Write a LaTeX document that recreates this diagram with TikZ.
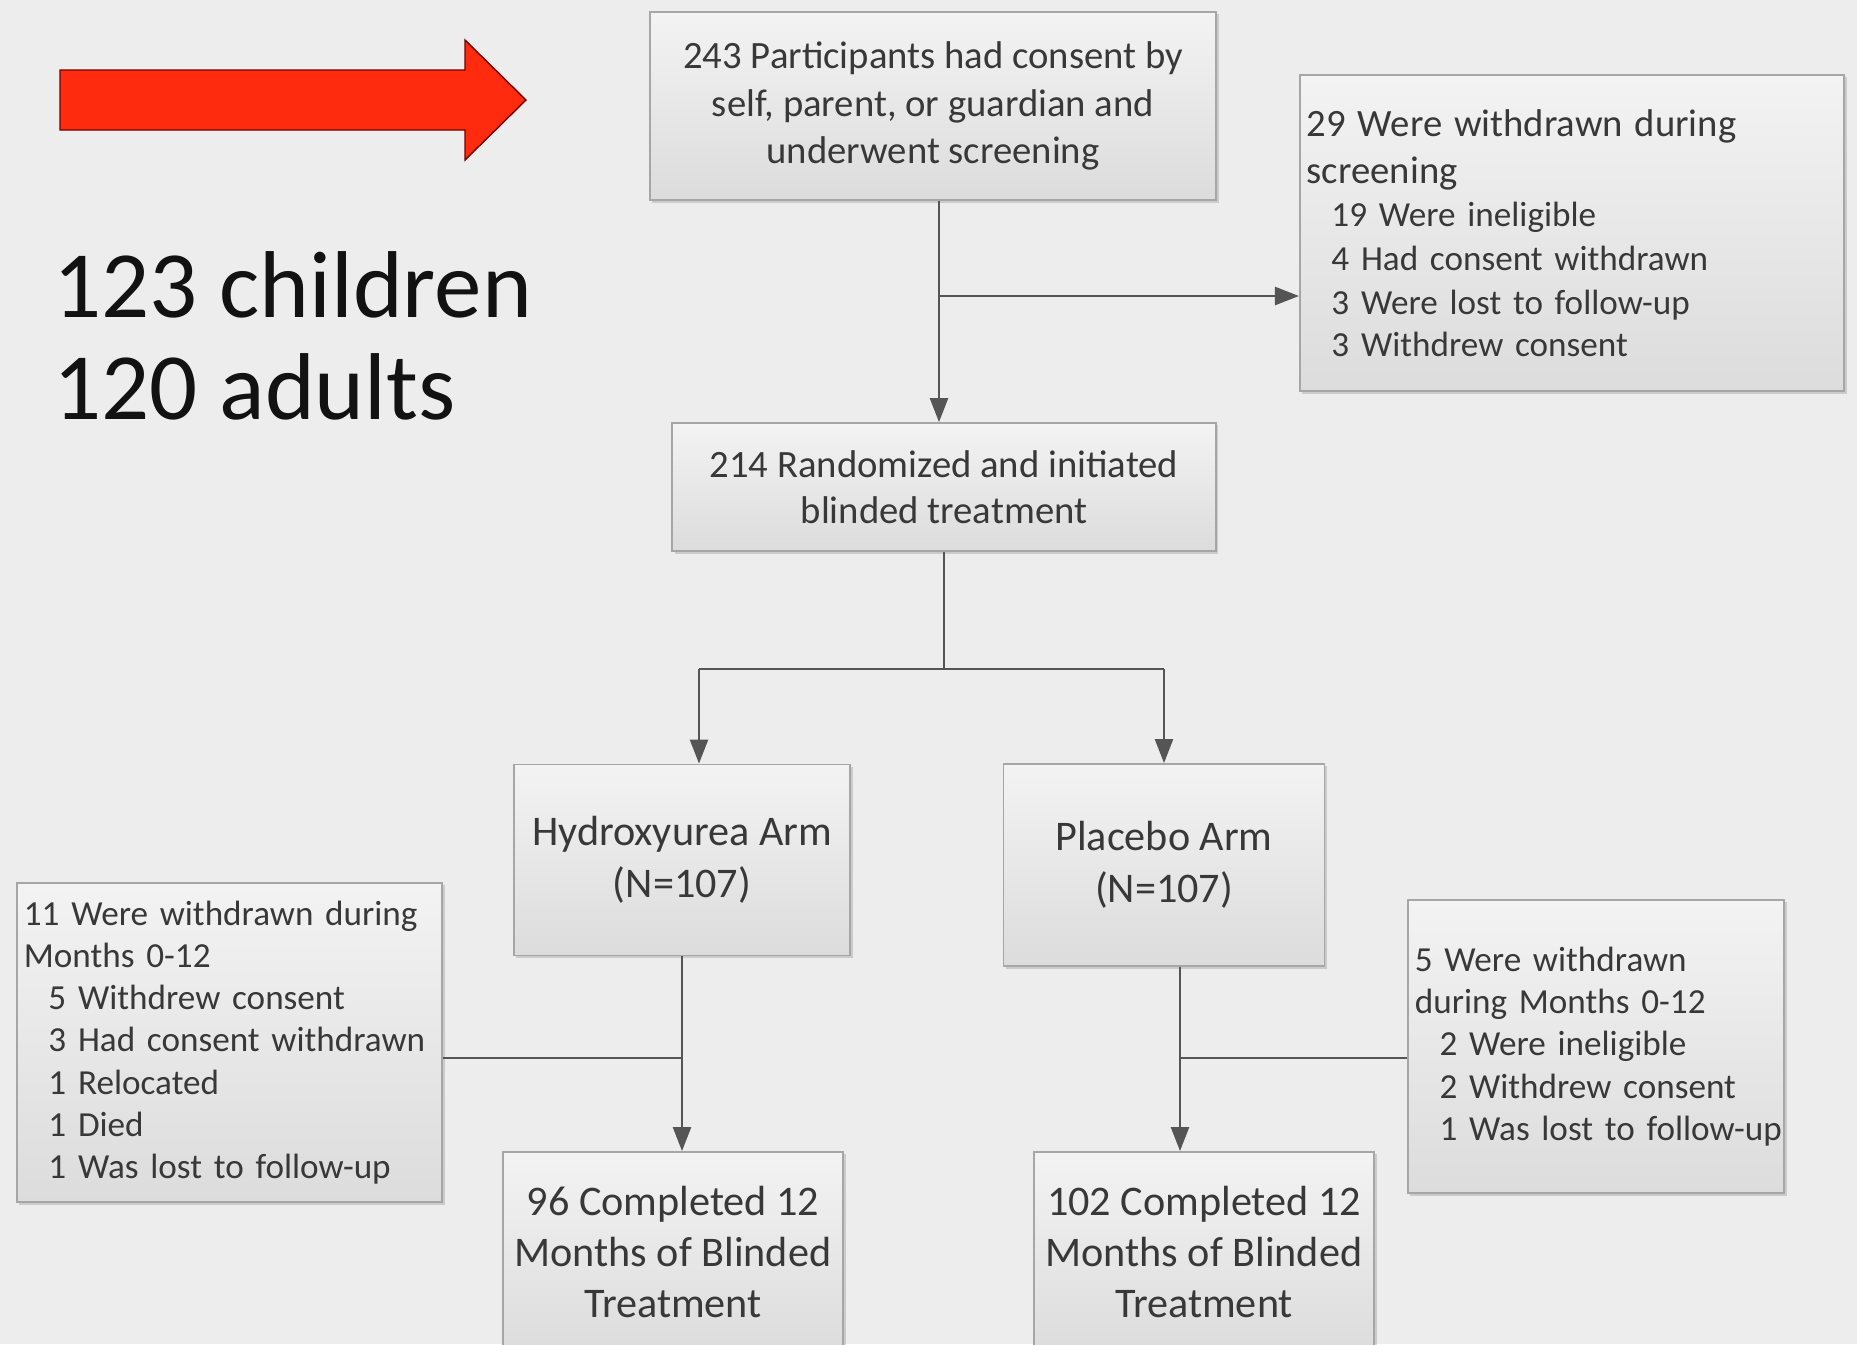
\documentclass[tikz,border=0pt]{standalone}
\usepackage{fontspec}
\setmainfont{Carlito}
\usepackage{tikz}
\usetikzlibrary{arrows.meta}
\usetikzlibrary{shadows}
\definecolor{slidebg}{HTML}{EDEDED}
\definecolor{boxtop}{HTML}{F3F3F3}
\definecolor{boxbot}{HTML}{DCDCDC}
\definecolor{boxline}{HTML}{A6A6A6}
\definecolor{boxtext}{HTML}{383838}
\definecolor{linkc}{HTML}{555555}
\definecolor{pointer}{HTML}{FF2B0E}
\tikzset{
  box/.style={draw=boxline, line width=0.5pt, top color=boxtop, bottom color=boxbot, text=boxtext, align=center,
    drop shadow={shadow xshift=0.7pt, shadow yshift=-0.7pt, opacity=0.25, fill=black!60}},
  sidebox/.style={box, align=left, inner xsep=0.07cm, font=\fontsize{10}{12}\selectfont},
  link/.style={draw=linkc, line width=0.7pt},
}
\newcommand{\reason}{\hspace*{7pt}}
\newcommand{\fcbox}[4] {\node at (#1) (#2) [box, #3] {#4};}
\newcommand{\fcside}[5] {\node at (#1) (#2) [sidebox, text width=#3, minimum height=#4] {#5};}
\newcommand{\fcline}[2] {\draw [link] (#1) -- (#2);}
\newcommand{\fcarrow}[2] {\draw [link, -{Triangle[length=2.4mm,width=1.8mm]}] (#1) -- (#2);}
\begin{document}
\begin{tikzpicture}[x=0.01cm, y=-0.01cm]
\useasboundingbox (0,0) rectangle (1857,1344);
\clip (0,0) rectangle (1857,1344);
\fill [slidebg] (0,0) rectangle (1857,1344);

% pointer and counts
\draw [fill=pointer, draw=black!55!red, line width=0.4pt] (60,70) -- (465,70) -- (465,40) -- (526,100) -- (465,160) -- (465,130) -- (60,130) -- cycle;
\node at (53,419) (counts) [anchor=base west, align=left, inner sep=0pt, text=black!93, font=\fontsize{27}{29}\selectfont] {123 children\\120 adults};

\fcbox {933,106} {enrol} {minimum width=5.66cm, minimum height=1.88cm, font=\fontsize{11}{13.4}\selectfont} {243 Participants had consent by\\self, parent, or guardian and\\underwent screening};
\fcside {1572,233} {screenout} {5.30cm} {3.16cm} {\fontsize{11}{13.4}\selectfont 29 Were withdrawn during\\screening\par
  \fontsize{10}{12.4}\selectfont\reason 19 Were ineligible\\\reason 4 Had consent withdrawn\\\reason 3 Were lost to follow-up\\\reason 3 Withdrew consent};
\fcbox {944,487} {rand} {minimum width=5.43cm, minimum height=1.28cm, font=\fontsize{11}{13.2}\selectfont} {214 Randomized and initiated\\blinded treatment};
\fcbox {682,860} {hu} {minimum width=3.36cm, minimum height=1.91cm, font=\fontsize{12}{14.8}\selectfont} {Hydroxyurea Arm\\(N=107)};
\fcbox {1164,865} {pl} {minimum width=3.21cm, minimum height=2.02cm, font=\fontsize{12}{14.8}\selectfont} {Placebo Arm\\(N=107)};
\fcside {229.5,1042.5} {huout} {4.11cm} {3.19cm} {11 Were withdrawn during\\Months 0-12\\\reason 5 Withdrew consent\\\reason 3 Had consent withdrawn\\\reason 1 Relocated\\\reason 1 Died\\\reason 1 Was lost to follow-up};
\fcside {1596,1046.5} {plout} {3.62cm} {2.93cm} {5 Were withdrawn\\during Months 0-12\\\reason 2 Were ineligible\\\reason 2 Withdrew consent\\\reason\mbox{1 Was lost to follow-up}};
\fcbox {673,1252} {hudone} {minimum width=3.36cm, minimum height=2.00cm, font=\fontsize{12}{14.5}\selectfont} {96 Completed 12\\Months of Blinded\\Treatment};
\fcbox {1204,1252} {pldone} {minimum width=3.38cm, minimum height=2.00cm, font=\fontsize{12}{14.5}\selectfont} {102 Completed 12\\Months of Blinded\\Treatment};

\coordinate (screen) at (939,296);
\coordinate (split) at (944,669);
\coordinate (lsplit) at (699,669);
\coordinate (rsplit) at (1164,669);
\coordinate (hujoin) at (682,1058);
\coordinate (pljoin) at (1180,1058);

\fcline{screen |- enrol.south}{screen};
\fcarrow{screen}{screen |- rand.north};
\fcarrow{screen}{screenout.west |- screen};
\fcline{rand.south -| split}{split};
\fcline{lsplit}{rsplit};
\fcarrow{lsplit}{lsplit |- hu.north};
\fcarrow{rsplit}{rsplit |- pl.north};
\fcline{hujoin |- hu.south}{hujoin};
\fcarrow{hujoin}{hujoin |- hudone.north};
\fcline{huout.east |- hujoin}{hujoin};
\fcline{pljoin |- pl.south}{pljoin};
\fcarrow{pljoin}{pljoin |- pldone.north};
\fcline{pljoin}{plout.west |- pljoin};

\end{tikzpicture}
\end{document}
